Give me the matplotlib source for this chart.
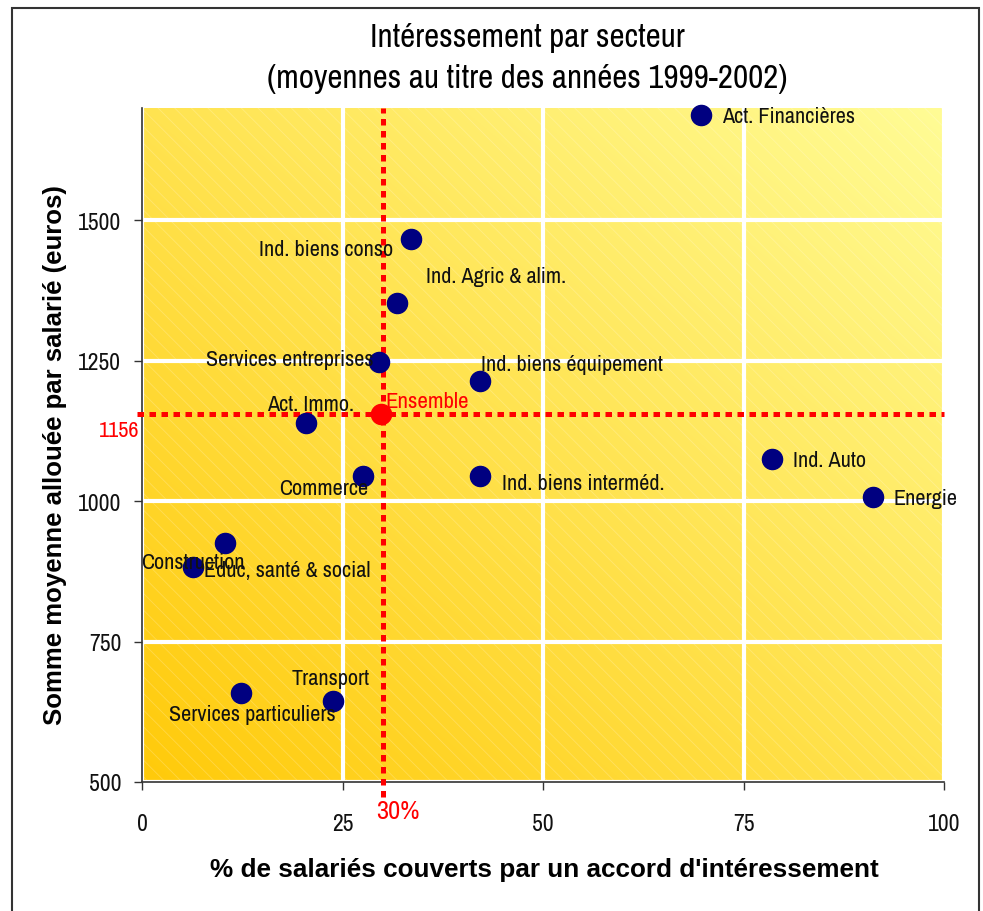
import matplotlib
matplotlib.use("Agg")
import matplotlib.pyplot as plt
import numpy as np
from matplotlib.patches import Rectangle

# sector data: % of employees covered, average amount per employee (euros)
secteurs = ["Act. Financières", "Ind. biens conso", "Ind. Agric & alim.",
            "Services entreprises", "Ind. biens équipement", "Act. Immo.",
            "Commerce", "Ind. biens interméd.", "Ind. Auto", "Energie",
            "Construction", "Educ, santé & social", "Transport",
            "Services particuliers"]
pct_couverts = [69.7, 33.5, 31.8, 29.5, 42.2, 20.5, 27.5, 42.2, 78.6, 91.1,
                10.3, 6.3, 23.8, 12.3]
somme_moyenne = [1688, 1467, 1353, 1248, 1214, 1140, 1044, 1044, 1075, 1007,
                 926, 882, 645, 659]

ensemble_pct = 30
ensemble_somme = 1156
ensemble_point = (29.8, 1156)

xticks = [0, 25, 50, 75, 100]
yticks = [500, 750, 1000, 1250, 1500]

# label offsets in pixels and horizontal alignment
label_pos = {
    "Act. Financières": (21, 1, "left"),
    "Ind. biens conso": (-18, -8, "right"),
    "Ind. Agric & alim.": (29, 29, "left"),
    "Services entreprises": (-5, 5, "right"),
    "Ind. biens équipement": (1, 19, "left"),
    "Act. Immo.": (4, 21, "center"),
    "Commerce": (6, -10, "right"),
    "Ind. biens interméd.": (22, -5, "left"),
    "Ind. Auto": (21, 1, "left"),
    "Energie": (21, 1, "left"),
    "Construction": (20, -17, "right"),
    "Educ, santé & social": (11, -1, "left"),
    "Transport": (37, 25, "right"),
    "Services particuliers": (12, -19, "center"),
}

narrow = ["Archivo Narrow", "Liberation Sans"]
bold_font = ["Liberation Sans", "DejaVu Sans"]

W, H = 983, 912
fig = plt.figure(figsize=(W / 100, H / 100), dpi=100)
ax = fig.add_axes([142 / W, 1 - 783 / H, 802 / W, 674 / H])

xmin, xmax, ymin, ymax = 0, 100, 500, 1700
ax.set_xlim(xmin, xmax)
ax.set_ylim(ymin, ymax)

# diagonal yellow gradient background with faint white hatching
u = np.linspace(0, 1, 400)
U, V = np.meshgrid(u, u)
t = (U + V) / 2
c0 = np.array([255, 202, 10]) / 255
c1 = np.array([255, 252, 150]) / 255
img = c0[None, None, :] * (1 - t[..., None]) + c1[None, None, :] * t[..., None]
ax.imshow(img, origin="lower", extent=[xmin, xmax, ymin, ymax], aspect="auto", zorder=0)
plt.rcParams["hatch.linewidth"] = 0.6
ax.add_patch(Rectangle((xmin, ymin), xmax - xmin, ymax - ymin, facecolor="none",
                       edgecolor=(1, 1, 1, 0.22), hatch="\\\\", lw=0, zorder=0.5))

ax.set_xticks(xticks)
ax.set_yticks(yticks)
ax.grid(True, color="white", lw=3, zorder=1)
ax.set_axisbelow(True)
for s in ["top", "right"]:
    ax.spines[s].set_visible(False)
for s in ["left", "bottom"]:
    ax.spines[s].set_color("#333333")
    ax.spines[s].set_linewidth(1.2)
ax.tick_params(direction="out", length=6, color="#333333", width=1,
               labelsize=17, labelcolor="#111111")
ax.tick_params(axis="x", pad=16)
ax.tick_params(axis="y", pad=9)
for lab in ax.get_xticklabels() + ax.get_yticklabels():
    lab.set_fontfamily(narrow)

# reference lines for the overall average
dots = (0, (1.3, 1.1))
ax.plot([-0.6, 100], [ensemble_somme, ensemble_somme], color="red", lw=3.6,
        ls=dots, dash_capstyle="butt", clip_on=False, zorder=3)
ax.plot([ensemble_pct, ensemble_pct], [473, 1700], color="red", lw=3.6,
        ls=dots, dash_capstyle="butt", clip_on=False, zorder=3)

ax.scatter(pct_couverts, somme_moyenne, s=210, color="#000080", zorder=4,
           clip_on=False)
ax.scatter([ensemble_point[0]], [ensemble_point[1]], s=210, color="red", zorder=4)

for name, x, y in zip(secteurs, pct_couverts, somme_moyenne):
    dx, dy, ha = label_pos[name]
    ax.annotate(name, (x, y), xytext=(dx, dy), textcoords="offset pixels",
                ha=ha, va="center_baseline", fontsize=16, family=narrow,
                color="#111111", zorder=5, annotation_clip=False)

ax.annotate("Ensemble", ensemble_point, xytext=(4, 15), textcoords="offset pixels",
            ha="left", va="center_baseline", fontsize=16.5, family=narrow,
            color="red", zorder=5)
ax.annotate(str(ensemble_somme), (0, ensemble_somme), xytext=(-3, -14),
            textcoords="offset pixels", ha="right", va="center_baseline",
            fontsize=16, family=narrow, fontweight="bold", color="red",
            annotation_clip=False)
ax.annotate(f"{ensemble_pct}%", (ensemble_pct, ymin), xytext=(15, -27),
            textcoords="offset pixels", ha="center", va="center_baseline",
            fontsize=19, family=narrow, color="red", annotation_clip=False)

fig.text(527 / W, 1 - 47 / H, "Intéressement par secteur", ha="center",
         va="baseline", fontsize=23.8, family=narrow)
fig.text(527 / W, 1 - 88 / H, "(moyennes au titre des années 1999-2002)",
         ha="center", va="baseline", fontsize=23.8, family=narrow)

fig.text(544 / W, 1 - 870 / H, "% de salariés couverts par un accord d'intéressement",
         ha="center", va="center", fontsize=18.8, fontweight="bold",
         family=bold_font)
fig.text(55 / W, 1 - 455 / H, "Somme moyenne allouée par salarié (euros)",
         ha="center", va="center", rotation=90, fontsize=18.5, fontweight="bold",
         family=bold_font)

# frame around the whole chart
fig.patches.append(Rectangle((12 / W, -0.01), 967 / W, 1.01 - 9 / H,
                             transform=fig.transFigure, fill=False,
                             edgecolor="#333333", lw=1.5))

fig.savefig("out.png", dpi=100)
